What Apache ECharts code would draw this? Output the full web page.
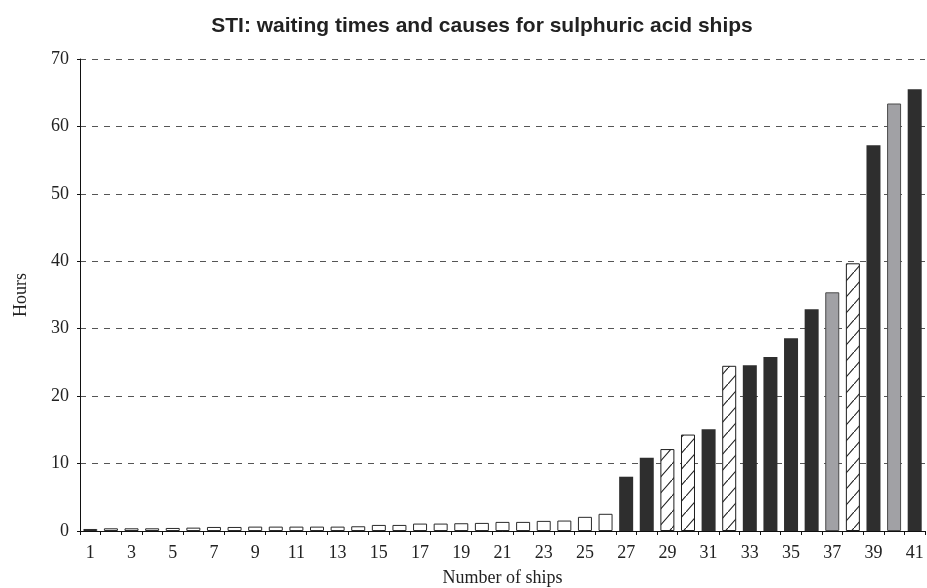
<!DOCTYPE html>
<html><head><meta charset="utf-8">
<script src="https://cdn.jsdelivr.net/npm/echarts@6/dist/echarts.min.js"></script>
<style>html,body{margin:0;padding:0;background:#fff}#c{width:927px;height:588px}</style>
</head><body><div id="c"></div>
<script>
const titleText = 'STI: waiting times and causes for sulphuric acid ships';
const xName = 'Number of ships';
const yName = 'Hours';
const ships = ['1','2','3','4','5','6','7','8','9','10','11','12','13','14','15','16','17','18','19','20','21','22','23','24','25','26','27','28','29','30','31','32','33','34','35','36','37','38','39','40','41'];
const hours = [0.3,0.4,0.4,0.4,0.45,0.5,0.6,0.6,0.65,0.65,0.65,0.65,0.65,0.7,0.9,0.9,1.1,1.1,1.15,1.2,1.35,1.35,1.5,1.55,2.1,2.55,8.05,10.85,12.15,14.3,15.1,24.5,24.6,25.8,28.6,32.9,35.4,39.7,57.2,63.4,65.5];
// cause category per ship: W = white, D = dark, H = hatched, G = grey
const cause = ['W','W','W','W','W','W','W','W','W','W','W','W','W','W','W','W','W','W','W','W','W','W','W','W','W','W','D','D','H','H','D','H','D','D','D','D','G','H','D','G','D'];
const yTicks = [0,10,20,30,40,50,60,70];

const pc = document.createElement('canvas');
pc.width = 14; pc.height = 16;
const ctx = pc.getContext('2d');
ctx.fillStyle = '#fff'; ctx.fillRect(0,0,14,16);
ctx.strokeStyle = '#1e1e1e'; ctx.lineWidth = 1.1;
ctx.beginPath(); ctx.moveTo(-1, 16 + 16/14); ctx.lineTo(15, -16/14); ctx.stroke();

const styles = {
  W: {color:'#ffffff', borderColor:'#2a2a2a', borderWidth:1},
  D: {color:'#2e2e2e', borderColor:'#2e2e2e', borderWidth:0},
  H: {color:{image: pc, repeat:'repeat'}, borderColor:'#1e1e1e', borderWidth:1},
  G: {color:'#a1a1a5', borderColor:'#4a4a4a', borderWidth:1}
};
const data = hours.map((v,i)=>({value:v, itemStyle: styles[cause[i]]}));

const serif = '"Liberation Serif","DejaVu Serif",serif';
const chart = echarts.init(document.getElementById('c'), null, {renderer:'canvas'});
chart.setOption({
  animation:false,
  backgroundColor:'#fff',
  title:{text:titleText, left:477, textAlign:'center', top:11,
    textStyle:{fontFamily:'"Liberation Sans",Arial,sans-serif', fontWeight:'bold', fontSize:21, color:'#222'}},
  grid:{left:80, right:2, top:59, bottom:57, containLabel:false, outerBoundsMode:'none'},
  xAxis:{type:'category', data:ships, boundaryGap:true,
    name:xName, nameLocation:'middle', nameGap:38,
    nameTextStyle:{fontFamily:serif, fontSize:18, color:'#222'},
    axisLine:{lineStyle:{color:'#111', width:1}},
    axisTick:{show:true, interval:0, alignWithLabel:false, length:4, lineStyle:{color:'#111'}},
    axisLabel:{interval:1, margin:13, fontFamily:serif, fontSize:18, color:'#222'}},
  yAxis:{type:'value', min:0, max:70, interval:10,
    name:yName, nameLocation:'middle', nameGap:50,
    nameTextStyle:{fontFamily:serif, fontSize:18, color:'#222'},
    axisLine:{show:true, lineStyle:{color:'#111', width:1}},
    axisTick:{show:true, length:3, lineStyle:{color:'#111'}},
    axisLabel:{margin:11, fontFamily:serif, fontSize:18, color:'#222'}},
  series:[{type:'bar', data:data, barWidth:14, silent:true}]
});
chart.setOption({yAxis:{splitLine:{show:true, lineStyle:{color:'#555', type:[6,6], width:1}}}});
</script></body></html>
